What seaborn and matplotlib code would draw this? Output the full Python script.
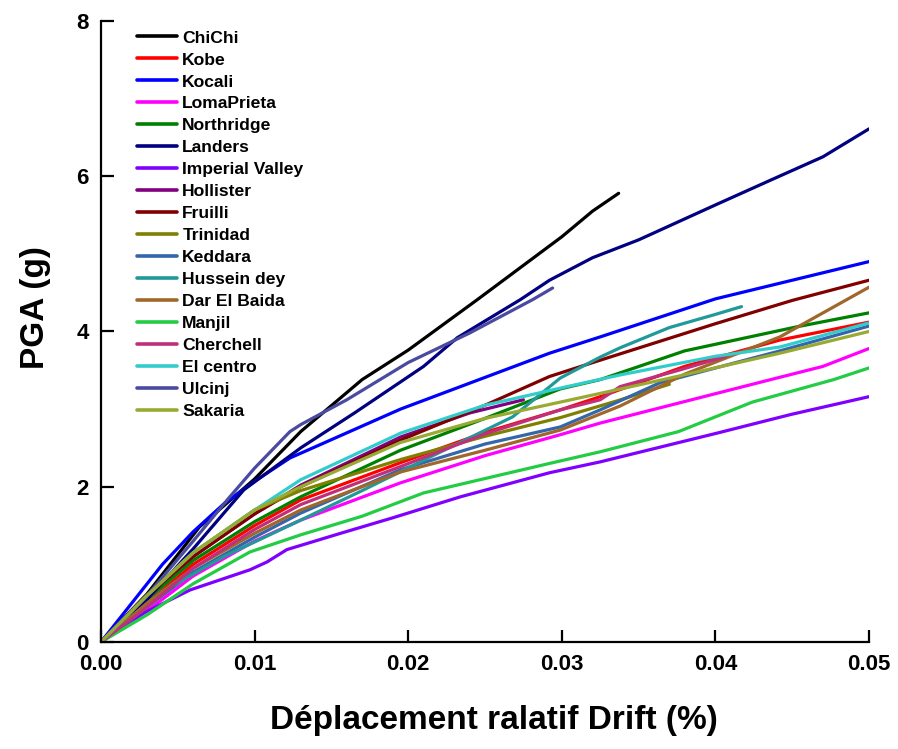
import matplotlib
matplotlib.use("Agg")
import matplotlib.pyplot as plt
import seaborn as sns
import pandas as pd

# ---- data (drift ratio, PGA in g) ----
chichi_x = [0, 0.003, 0.0064, 0.01, 0.013, 0.017, 0.02, 0.0245, 0.03, 0.032, 0.0337]
chichi_y = [0, 0.62, 1.48, 2.1, 2.71, 3.38, 3.76, 4.41, 5.22, 5.55, 5.78]

kobe_x = [0, 0.003, 0.006, 0.01, 0.013, 0.0195, 0.025, 0.0299, 0.0325, 0.038, 0.0442, 0.05]
kobe_y = [0, 0.5, 1.0, 1.5, 1.83, 2.31, 2.7, 2.99, 3.16, 3.55, 3.89, 4.12]

kocali_x = [0, 0.002, 0.004, 0.006, 0.008, 0.01, 0.0123, 0.0195, 0.0292, 0.0325, 0.04, 0.05]
kocali_y = [0, 0.5, 1.0, 1.42, 1.78, 2.07, 2.37, 3.0, 3.72, 3.93, 4.42, 4.9]

loma_x = [0, 0.003, 0.006, 0.01, 0.013, 0.0195, 0.025, 0.0299, 0.0325, 0.0436, 0.047, 0.05]
loma_y = [0, 0.4, 0.85, 1.3, 1.57, 2.05, 2.4, 2.67, 2.82, 3.38, 3.55, 3.78]

northridge_x = [0, 0.003, 0.006, 0.01, 0.013, 0.0195, 0.025, 0.0299, 0.0325, 0.038, 0.0453, 0.05]
northridge_y = [0, 0.55, 1.05, 1.55, 1.87, 2.47, 2.88, 3.26, 3.38, 3.75, 4.06, 4.24]

landers_x = [0, 0.003, 0.006, 0.0093, 0.013, 0.0165, 0.0195, 0.021, 0.0232, 0.0273, 0.0292,
             0.032, 0.035, 0.04, 0.0436, 0.047, 0.05]
landers_y = [0, 0.55, 1.2, 1.96, 2.5, 2.95, 3.35, 3.55, 3.92, 4.41, 4.66,
             4.95, 5.18, 5.63, 5.95, 6.25, 6.61]

imperial_x = [0, 0.00275, 0.0058, 0.0097, 0.0108, 0.0121, 0.0156, 0.019, 0.0234, 0.0292,
              0.0325, 0.0401, 0.0449, 0.05]
imperial_y = [0, 0.37, 0.67, 0.93, 1.03, 1.19, 1.40, 1.6, 1.87, 2.18, 2.32, 2.69, 2.93, 3.16]

hollister_x = [0, 0.003, 0.006, 0.01, 0.013, 0.0195, 0.024, 0.0275]
hollister_y = [0, 0.6, 1.1, 1.65, 2.02, 2.64, 2.95, 3.12]

fruilli_x = [0, 0.003, 0.006, 0.01, 0.013, 0.0195, 0.025, 0.0292, 0.0325, 0.04, 0.045, 0.05]
fruilli_y = [0, 0.6, 1.1, 1.65, 2.0, 2.6, 3.05, 3.42, 3.63, 4.1, 4.4, 4.66]

trinidad_x = [0, 0.003, 0.006, 0.01, 0.013, 0.0195, 0.025, 0.0299, 0.0335, 0.037]
trinidad_y = [0, 0.6, 1.15, 1.7, 1.95, 2.35, 2.65, 2.89, 3.1, 3.32]

keddara_x = [0, 0.003, 0.006, 0.01, 0.013, 0.0195, 0.025, 0.0299, 0.0325, 0.0364, 0.0442, 0.05]
keddara_y = [0, 0.45, 0.9, 1.35, 1.66, 2.22, 2.55, 2.77, 2.99, 3.34, 3.75, 4.07]

hussein_x = [0, 0.004, 0.008, 0.013, 0.017, 0.0214, 0.0268, 0.0299, 0.0325, 0.0338, 0.037, 0.04, 0.0417]
hussein_y = [0, 0.65, 1.1, 1.57, 1.95, 2.38, 2.9, 3.4, 3.67, 3.79, 4.05, 4.22, 4.32]

darelbaida_x = [0, 0.003, 0.006, 0.01, 0.013, 0.0195, 0.025, 0.0299, 0.0338, 0.038, 0.0442, 0.05]
darelbaida_y = [0, 0.5, 0.95, 1.4, 1.7, 2.19, 2.47, 2.73, 3.04, 3.45, 3.93, 4.57]

manjil_x = [0, 0.003, 0.006, 0.0097, 0.013, 0.017, 0.021, 0.0292, 0.0325, 0.0376, 0.0424, 0.0477, 0.05]
manjil_y = [0, 0.35, 0.75, 1.16, 1.38, 1.62, 1.92, 2.30, 2.45, 2.71, 3.09, 3.38, 3.53]

cherchell_x = [0, 0.003, 0.006, 0.01, 0.013, 0.0195, 0.025, 0.0299, 0.0325, 0.0338, 0.0376, 0.0407]
cherchell_y = [0, 0.45, 0.95, 1.45, 1.77, 2.26, 2.68, 2.99, 3.12, 3.29, 3.5, 3.68]

elcentro_x = [0, 0.003, 0.006, 0.01, 0.013, 0.0195, 0.025, 0.0299, 0.0338, 0.04, 0.0442, 0.05]
elcentro_y = [0, 0.6, 1.15, 1.7, 2.09, 2.69, 3.05, 3.27, 3.44, 3.68, 3.8, 4.11]

ulcinj_x = [0, 0.003, 0.006, 0.0083, 0.01, 0.0123, 0.013, 0.016, 0.02, 0.024, 0.0281, 0.0294]
ulcinj_y = [0, 0.6, 1.3, 1.85, 2.24, 2.71, 2.80, 3.12, 3.6, 3.98, 4.41, 4.56]

sakaria_x = [0, 0.003, 0.006, 0.01, 0.013, 0.0195, 0.025, 0.0299, 0.0366, 0.0442, 0.05]
sakaria_y = [0, 0.6, 1.15, 1.7, 2.0, 2.57, 2.88, 3.09, 3.38, 3.72, 4.0]

names = ["ChiChi", "Kobe", "Kocali", "LomaPrieta", "Northridge", "Landers",
         "Imperial Valley", "Hollister", "Fruilli", "Trinidad", "Keddara",
         "Hussein dey", "Dar El Baida", "Manjil", "Cherchell", "El centro",
         "Ulcinj", "Sakaria"]
series_x = [chichi_x, kobe_x, kocali_x, loma_x, northridge_x, landers_x, imperial_x,
            hollister_x, fruilli_x, trinidad_x, keddara_x, hussein_x, darelbaida_x,
            manjil_x, cherchell_x, elcentro_x, ulcinj_x, sakaria_x]
series_y = [chichi_y, kobe_y, kocali_y, loma_y, northridge_y, landers_y, imperial_y,
            hollister_y, fruilli_y, trinidad_y, keddara_y, hussein_y, darelbaida_y,
            manjil_y, cherchell_y, elcentro_y, ulcinj_y, sakaria_y]
colors = ["#000000", "#ff0000", "#0000ff", "#ff00ff", "#008000", "#000080",
          "#8000ff", "#800080", "#800000", "#808000", "#3366aa", "#229999",
          "#a0662a", "#22cc44", "#c0307a", "#33cccc", "#4a4aa0", "#99aa33"]

x_ticks = [0.00, 0.01, 0.02, 0.03, 0.04, 0.05]
x_ticklabels = ["0.00", "0.01", "0.02", "0.03", "0.04", "0.05"]
y_ticks = [0, 2, 4, 6, 8]

rows = []
for n, xs, ys in zip(names, series_x, series_y):
    for i, (a, b) in enumerate(zip(xs, ys)):
        rows.append({"series": n, "order": i, "drift": a, "pga": b})
df = pd.DataFrame(rows)

sns.set_theme(style="white")
plt.rcParams["font.family"] = ["Liberation Sans", "DejaVu Sans"]
plt.rcParams["font.weight"] = "bold"
plt.rcParams["text.color"] = "black"
plt.rcParams["axes.labelcolor"] = "black"
plt.rcParams["xtick.color"] = "black"
plt.rcParams["ytick.color"] = "black"

fig = plt.figure(figsize=(8.98, 7.49), dpi=100)
ax = fig.add_axes([0.1125, 0.1429, 0.9677 - 0.1125, 0.972 - 0.1429])

sns.lineplot(data=df, x="drift", y="pga", hue="series", hue_order=names,
             palette=dict(zip(names, colors)), sort=False, estimator=None,
             units="series", linewidth=2.3, ax=ax, legend=True)

ax.set_xlim(0, 0.05)
ax.set_ylim(0, 8)
ax.set_xticks(x_ticks)
ax.set_xticklabels(x_ticklabels)
ax.set_yticks(y_ticks)
for s in ["top", "right"]:
    ax.spines[s].set_visible(False)
for s in ["left", "bottom"]:
    ax.spines[s].set_visible(True)
    ax.spines[s].set_color("black")
    ax.spines[s].set_linewidth(1.6)
ax.tick_params(direction="in", length=9, width=1.6, colors="black",
               labelcolor="black", labelsize=16, pad=9, left=True, bottom=True)
for lab in ax.get_xticklabels() + ax.get_yticklabels():
    lab.set_fontweight("bold")
    lab.set_color("black")

ax.set_xlabel("Déplacement ralatif Drift (%)", fontsize=24, fontweight="bold", color="black")
ax.set_ylabel("PGA (g)", fontsize=24, fontweight="bold", color="black")
ax.xaxis.set_label_coords(0.5117, -0.1015)
ax.yaxis.set_label_coords(-0.065, 0.538)

leg = ax.legend(loc="upper left", bbox_to_anchor=(0.047, 0.985), frameon=False,
                prop={"weight": "bold", "size": 12.6}, handlelength=2.29,
                handletextpad=0.29, labelspacing=0.385, borderpad=0, borderaxespad=0)
for t in leg.get_texts():
    t.set_color("black")
for h in leg.get_lines():
    h.set_linewidth(2.6)

fig.savefig("out.png", dpi=100)
